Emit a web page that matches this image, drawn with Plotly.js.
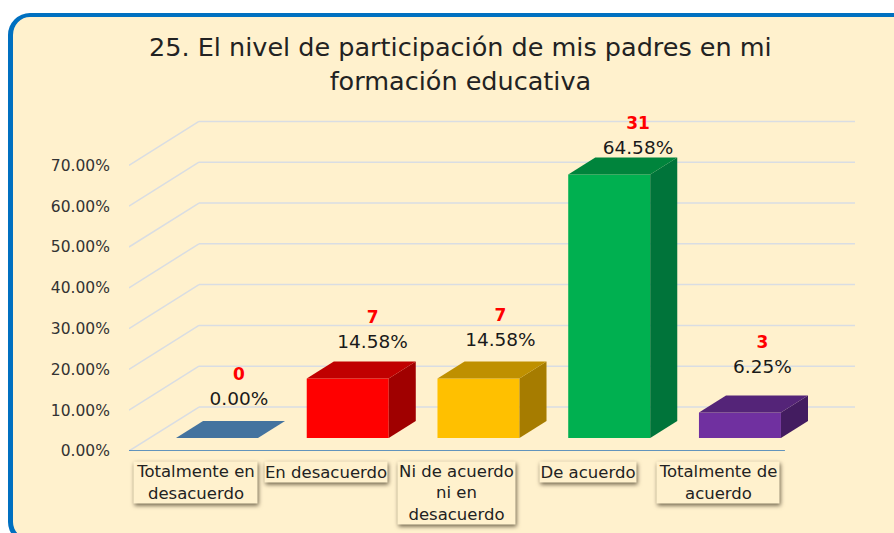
<!DOCTYPE html>
<html>
<head>
<meta charset="utf-8">
<script src="https://cdn.plot.ly/plotly-3.0.1.min.js"></script>
<style>
html, body { margin: 0; padding: 0; width: 894px; height: 533px; overflow: hidden; background: #fff; }
#frame {
	position: absolute; left: 8px; top: 13px; width: 920px; height: 522px;
	background: #fff1cd; border: solid #0070c0; border-width: 4px 5px 5px 5px; border-radius: 22px;
}
#graph { position: absolute; left: 0; top: 0; width: 894px; height: 533px; }
#graph .annotation rect.bg { filter: drop-shadow(1px 2px 2px rgba(60,50,30,0.75)); }
</style>
</head>
<body>
<div id="frame"></div>
<div id="graph"></div>
<script>
var categories = ['Totalmente en<br>desacuerdo', 'En desacuerdo', 'Ni de acuerdo<br>ni en<br>desacuerdo', 'De acuerdo', 'Totalmente de<br>acuerdo'];
var counts = [0, 7, 7, 31, 3];
var percents = [0, 14.58, 14.58, 64.58, 6.25];
var yTicks = [0, 10, 20, 30, 40, 50, 60, 70];

var frontColors = ['#44739f', '#ff0000', '#ffc000', '#00b050', '#7030a0'];
var topColors = ['#44739f', '#c00000', '#bf9000', '#00843c', '#542478'];
var sideColors = ['#44739f', '#a00000', '#a67c00', '#00743a', '#431c60'];

// hand placed labels in the original chart
var labelShiftX = [0.168, 0.19, 0.168, 0.22, 0.172];
var labelLift = [12.5, 11.9, 12.37, 9.43, 14.08];

// fake 3d, everything in axis units
var xMin = -0.673, xMax = 4.88, yMax = 86.03;
var floorDX = 0.535, floorDY = 10.78;
var barBase = 3.2, barWidth = 0.627;
var depthDX = 0.207, depthDY = 4.17;
var axisEnd = 4.344;
var axisLabelOffset = -0.165;

var traces = [];
traces.push({
	type: 'bar',
	x: [0, 1, 2, 3, 4],
	y: percents,
	base: barBase,
	width: barWidth,
	marker: { color: frontColors, line: { width: 0 } },
	hoverinfo: 'skip'
});

percents.forEach(function (p, i) {
	var l = i - barWidth / 2, r = i + barWidth / 2, top = barBase + p;
	traces.push({
		type: 'scatter', mode: 'none', fill: 'toself', fillcolor: sideColors[i],
		x: [r, r + depthDX, r + depthDX, r, r],
		y: [barBase, barBase + depthDY, top + depthDY, top, barBase],
		hoverinfo: 'skip'
	});
	traces.push({
		type: 'scatter', mode: 'none', fill: 'toself', fillcolor: topColors[i],
		x: [l, l + depthDX, r + depthDX, r, l],
		y: [top, top + depthDY, top + depthDY, top, top],
		hoverinfo: 'skip'
	});
});

var pctX = percents.map(function (p, i) { return i + labelShiftX[i]; });
traces.push({
	type: 'scatter', mode: 'text', x: pctX,
	y: percents.map(function (p, i) { return p + labelLift[i]; }),
	text: percents.map(function (p) { return p.toFixed(2) + '%'; }),
	textfont: { family: 'DejaVu Sans', size: 18.5, color: '#1a1a1a' },
	cliponaxis: false, hoverinfo: 'skip'
});
traces.push({
	type: 'scatter', mode: 'text', x: pctX,
	y: percents.map(function (p, i) { return p + labelLift[i] + 6; }),
	text: counts.map(String),
	textfont: { family: 'DejaVu Sans', size: 17, color: '#ff0000', weight: 'bold' },
	cliponaxis: false, hoverinfo: 'skip'
});

// wall and floor lines, below the bars
var shapes = [];
yTicks.forEach(function (v) {
	shapes.push({ type: 'line', layer: 'below', x0: xMin, x1: xMin + floorDX, y0: v, y1: v + floorDY,
		line: { color: '#d9dde3', width: 1.5 } });
	shapes.push({ type: 'line', layer: 'below', x0: xMin + floorDX, x1: xMax, y0: v + floorDY, y1: v + floorDY,
		line: { color: '#d9dde3', width: 1.5 } });
});
shapes.push({ type: 'line', layer: 'below', x0: xMin, x1: axisEnd, y0: 0, y1: 0,
	line: { color: '#2e75b6', width: 1.5 } });

var boxHeights = [41, 20, 62, 20, 41];
var boxWidths = [123, 122, 117, 96, 122];
var annotations = categories.map(function (c, i) {
	return {
		text: c, x: i + axisLabelOffset, xref: 'x', y: 0, yref: 'y',
		xanchor: 'center', yanchor: 'top', yshift: -10, showarrow: false,
		align: 'center', valign: 'middle',
		width: boxWidths[i], height: boxHeights[i], borderpad: 0,
		bgcolor: '#fff1cd',
		font: { family: 'DejaVu Sans', size: 16.5, color: '#222' }
	};
});

var layout = {
	width: 894, height: 533,
	margin: { l: 129, r: 39, t: 100, b: 82, pad: 0 },
	paper_bgcolor: 'rgba(0,0,0,0)',
	plot_bgcolor: 'rgba(0,0,0,0)',
	showlegend: false,
	title: {
		text: '25. El nivel de participación de mis padres en mi<br>formación educativa',
		x: 0.515, xanchor: 'center', y: 0.894, yanchor: 'bottom',
		font: { family: 'DejaVu Sans', size: 25.5, color: '#222' }
	},
	xaxis: { range: [xMin, xMax], showgrid: false, zeroline: false, showline: false, showticklabels: false, ticks: '' },
	yaxis: {
		range: [0, yMax], tickmode: 'array', tickvals: yTicks,
		ticktext: yTicks.map(function (v) { return v.toFixed(2) + '%'; }),
		showgrid: false, zeroline: false, showline: false,
		ticks: 'outside', ticklen: 15, tickcolor: 'rgba(0,0,0,0)',
		tickfont: { family: 'DejaVu Sans', size: 15.5, color: '#333' }
	},
	shapes: shapes,
	annotations: annotations
};

Plotly.newPlot('graph', traces, layout, { displayModeBar: false, staticPlot: true });
</script>
</body>
</html>
